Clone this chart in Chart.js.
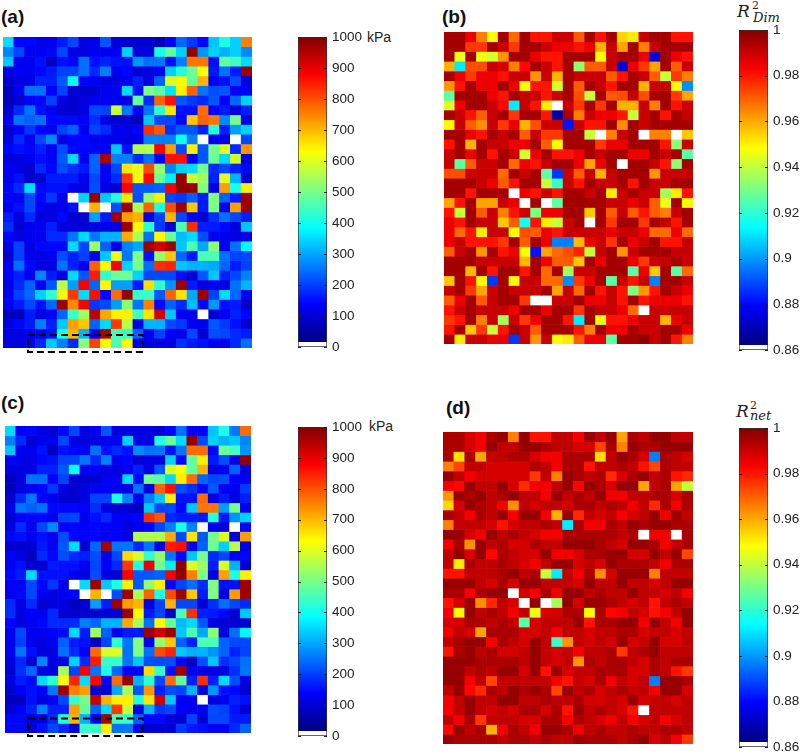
<!DOCTYPE html>
<html>
<head>
<meta charset="utf-8">
<title>Stiffness and fit maps</title>
<script src="https://cdn.jsdelivr.net/npm/chart.js@4"></script>
<style>
  body { margin: 0; background: #fff; width: 800px; height: 754px; overflow: hidden; position: relative; font-family: "Liberation Sans", Arial, sans-serif; color: #222; }
  canvas { position: absolute; }
  canvas.map { filter: blur(0.4px); }
  .tag { position: absolute; font-weight: bold; font-size: 19px; color: #111; line-height: 22px; }
  .unit { position: absolute; font-size: 14px; line-height: 16px; }
  .math { position: absolute; font-family: "DejaVu Serif", serif; font-style: italic; line-height: 1; color: #222; }
</style>
</head>
<body>
<div class="tag" style="left:1px;top:6px">(a)</div>
<div class="tag" style="left:442px;top:6px">(b)</div>
<div class="tag" style="left:1px;top:392px">(c)</div>
<div class="tag" style="left:446px;top:397px">(d)</div>
<div class="unit" style="left:367px;top:29px">kPa</div>
<div class="unit" style="left:369px;top:418px">kPa</div>
<span class="math" style="left:737px;top:3px;font-size:17px">R</span>
<span class="math" style="left:752px;top:0;font-size:11px;font-style:normal">2</span>
<span class="math" style="left:753px;top:11px;font-size:13px">Dim</span>
<span class="math" style="left:736px;top:403px;font-size:17px">R</span>
<span class="math" style="left:750px;top:400px;font-size:11px;font-style:normal">2</span>
<span class="math" style="left:750px;top:409px;font-size:13px">net</span>

<canvas class="map" id="mapA" width="249" height="317" style="left:3px;top:37px"></canvas>
<canvas class="map" id="mapB" width="249" height="312" style="left:444px;top:32px"></canvas>
<canvas class="map" id="mapC" width="246" height="313" style="left:5px;top:426px"></canvas>
<canvas class="map" id="mapD" width="250" height="312" style="left:443px;top:432px"></canvas>
<canvas id="barA" width="103" height="330" style="left:296px;top:27px"></canvas>
<canvas id="barB" width="63" height="340" style="left:737px;top:20px"></canvas>
<canvas id="barC" width="103" height="329" style="left:296px;top:417px"></canvas>
<canvas id="barD" width="63" height="339" style="left:737px;top:418px"></canvas>

<script>
// stiffness in kPa, 0 means no value (white cell)
const panelA = [
  [340,130,130,110,110,150,195,95,110,210,95,80,80,80,60,130,225,180,130,320,400,330,750],
  [255,195,110,120,130,195,95,95,110,110,110,330,95,95,400,470,330,980,270,330,300,330,260],
  [320,110,110,140,60,140,130,235,140,155,140,140,270,235,240,140,250,760,760,140,470,440,340],
  [95,120,110,130,150,190,190,235,165,250,110,130,80,95,110,330,410,480,620,150,235,150,970],
  [80,95,95,155,155,210,380,120,120,95,95,110,155,95,220,590,620,470,700,110,140,200,95],
  [60,110,235,235,120,190,80,80,80,110,110,340,140,500,460,350,640,780,240,200,210,120,120],
  [60,80,120,130,190,95,80,95,110,110,110,95,470,165,780,860,210,180,165,210,120,225,330],
  [80,165,240,140,110,80,80,95,195,190,570,240,110,240,420,650,140,140,770,120,150,95,155],
  [110,240,220,235,130,130,130,120,170,95,80,80,60,320,195,195,130,680,780,760,260,490,110],
  [80,120,180,130,110,190,220,110,190,165,110,110,130,830,790,170,210,210,155,410,155,280,330],
  [95,165,110,195,260,95,130,130,110,110,110,95,110,250,250,250,390,250,0,110,110,0,195],
  [130,140,130,155,110,200,130,130,130,120,320,140,550,550,880,720,195,640,210,490,590,165,730],
  [95,95,110,140,120,210,340,110,225,960,250,250,165,235,110,860,860,110,210,480,340,580,95],
  [120,95,80,165,130,200,170,150,220,110,195,650,600,800,520,255,330,340,490,165,195,155,130],
  [110,140,80,80,150,150,150,110,195,120,165,820,620,870,480,360,980,570,530,155,600,300,80],
  [130,165,340,130,140,140,110,95,200,95,80,880,210,210,220,880,980,980,500,95,720,400,640],
  [130,110,195,130,180,110,0,330,970,320,410,650,200,520,640,195,180,220,150,500,220,150,970],
  [110,140,195,110,95,110,140,0,700,0,200,970,540,780,400,800,970,680,150,500,110,720,970],
  [150,95,165,95,95,130,80,80,280,150,970,720,700,95,190,700,195,110,80,170,235,195,155],
  [170,80,110,110,155,95,95,80,95,110,95,970,630,420,180,80,450,830,155,150,130,95,320],
  [130,95,110,110,165,165,240,340,240,300,300,710,540,235,630,480,310,340,200,110,110,95,95],
  [95,190,95,130,130,130,340,195,530,220,110,255,290,970,920,970,320,450,290,510,110,235,370],
  [80,190,110,95,110,200,155,190,95,320,610,240,500,140,520,680,225,150,450,450,235,190,195],
  [110,235,130,95,95,235,155,110,780,630,880,330,490,235,830,840,320,300,300,290,225,150,190],
  [120,155,110,255,150,95,340,210,850,420,480,480,330,195,195,195,140,80,210,320,155,195,250],
  [95,165,220,120,210,560,280,880,225,630,280,280,150,660,420,270,970,150,95,120,95,235,300],
  [110,190,225,330,420,610,820,340,860,130,770,980,430,430,210,780,650,290,970,190,340,225,110],
  [110,150,195,140,225,970,740,880,180,195,280,510,240,750,130,220,165,310,130,270,140,150,80],
  [60,60,150,95,120,225,430,530,940,710,640,640,440,650,920,320,110,110,0,80,110,155,130],
  [95,130,150,250,155,320,720,680,220,340,820,560,110,300,300,195,180,110,110,210,180,140,80],
  [95,95,120,110,140,400,700,300,110,960,440,430,220,120,190,120,110,195,80,200,195,165,150],
  [95,95,95,165,320,250,165,510,810,630,450,620,95,95,95,95,170,150,140,120,110,165,235]
];

// R2 of the dimensional fit
const panelB = [
  [.995,.995,.985,.965,.948,.995,.968,.995,.98,.98,.99,.99,.97,.995,.98,.995,.953,.95,.99,.995,.995,.98,.98],
  [.995,.995,.975,.975,.995,.99,.975,.995,.995,.99,.985,.985,.98,.985,.958,.99,.96,.995,.965,.99,.995,.995,.995],
  [.995,.945,.995,.945,.942,.962,.995,.995,.985,.98,.98,.995,.995,.995,.948,.99,.995,.995,.985,.872,.995,.985,.98],
  [.958,.91,.972,.972,.99,.988,.965,.982,.995,.99,.98,.995,.932,.97,.97,.99,.872,.985,.975,.96,.995,.97,.99],
  [.995,.985,.975,.985,.985,.98,.99,.99,.962,.99,.958,.995,.99,.99,.99,.97,.98,.995,.99,.97,.94,.975,.965],
  [.962,.98,.995,.985,.985,.995,.985,.948,.98,.98,.942,.995,.97,.995,.99,.98,.995,.995,.958,.99,.99,.948,.897],
  [.925,.995,.995,.995,.985,.98,.995,.99,.99,.98,.99,.995,.972,.94,.995,.97,.972,.99,.972,.995,.995,.975,.96],
  [.943,.985,.995,.995,.99,.982,.91,.99,.98,.95,0,.99,.975,.995,.975,.995,.958,.958,.99,.965,.995,.98,.99],
  [.995,.99,.98,.97,.99,.995,.975,.995,.995,.98,.865,.995,.965,.99,.985,.985,.98,.94,.99,.995,.98,.995,.99],
  [.948,.99,.97,.963,.99,.975,.985,.958,.972,.99,.99,.88,.99,.98,.98,.995,.963,.995,.99,.995,.995,.995,.995],
  [.995,.995,.985,.98,.995,.99,.995,.97,.99,.975,.975,.995,.995,.94,0,.965,.99,.995,0,.965,.965,0,.955],
  [.98,.995,.958,.995,.99,.99,.985,.985,.995,.97,.948,.995,.995,.995,.975,.985,.985,.995,.995,.995,.98,.932,.99],
  [.99,.995,.985,.995,.98,.995,.99,.942,.985,.995,.98,.98,.985,.995,.99,.995,.995,.985,.985,.995,.99,.995,.925],
  [.99,.925,.97,.99,.99,.995,.968,.985,.98,.99,.995,.995,.985,.96,.985,.995,0,.995,.995,.99,.98,.932,.995],
  [.972,.972,.99,.99,.99,.968,.995,.99,.995,.925,.885,.99,.97,.99,.958,.99,.995,.995,.995,.962,.99,.99,.99],
  [.995,.995,.995,.99,.985,.97,.98,.995,.995,.94,.92,.99,.98,.995,.99,.99,.995,.98,.995,.99,.99,.995,.995],
  [.995,.995,.98,.995,.995,.995,0,.985,.98,.99,.98,.995,.995,.99,.995,.95,.99,.995,.99,.99,.935,.95,.98],
  [.96,.98,.995,.96,.96,.99,.985,0,.995,0,.925,.995,.995,.995,.995,.99,.99,.985,.99,.97,.945,.995,.948],
  [.98,.94,.995,.97,.99,.965,.98,.99,.93,.985,.985,.995,.995,.955,.995,.97,.99,.97,.98,.97,.965,.99,.995],
  [.985,.98,.995,.99,.99,.955,.97,.915,.98,.95,.94,.99,.995,0,.995,.975,.995,.995,.975,.995,.99,.98,.995],
  [.985,.968,.98,.95,.99,.99,.948,.972,.97,.985,.98,.99,.99,.99,.99,.985,.99,.99,.985,.968,.968,.985,.968],
  [.985,.99,.98,.98,.98,.975,.995,.97,.995,.985,.895,.895,.957,.985,.99,.975,.995,.985,.99,.995,.98,.98,.99],
  [.97,.99,.995,.962,.995,.98,.985,.948,.88,.96,.968,.972,.978,.94,.99,.995,.962,.99,.995,.995,.995,.99,.99],
  [.995,.995,.995,.99,.99,.99,.99,.957,.995,.985,.97,.97,.955,.995,.985,.995,.995,.985,.975,.99,.99,.995,.99],
  [.995,.995,.957,.995,.98,.995,.995,.98,.995,.968,.995,.935,.99,.99,.995,.995,.995,.925,.985,.955,.995,.925,.968],
  [.955,.995,.98,.948,.885,.995,.948,.99,.99,.968,.968,.897,.975,.985,.995,.925,.99,.98,.99,.895,.995,.995,.99],
  [.99,.995,.975,.96,.99,.995,.99,.99,.99,.995,.96,.99,.968,.995,.98,.99,.98,.93,.962,.98,.995,.99,.985],
  [.97,.985,.995,.97,.99,.995,.995,.975,0,0,.99,.99,.995,.985,.985,.99,.98,.995,.98,.985,.985,.985,.98],
  [.98,.99,.995,.99,.99,.99,.985,.995,.995,.985,.995,.995,.975,.995,.99,.99,.985,.968,0,.99,.99,.99,.99],
  [.975,.98,.995,.965,.99,.935,.99,.975,.985,.995,.995,.98,.91,.995,.945,.98,.98,.985,.99,.99,.958,.985,.99],
  [.98,.995,.955,.975,.94,.98,.995,.99,.97,.995,.995,.995,.98,.965,.995,.985,.985,.995,.99,.99,.995,.995,.985],
  [.995,.95,.99,.99,.985,.985,.885,.99,.962,.99,.948,.95,.97,.985,.985,.925,.995,.995,.998,.99,.995,.98,.965]
];

const panelC = [
  [340,120,130,95,80,130,195,95,110,210,95,95,95,95,80,130,235,120,120,320,400,240,770],
  [250,165,80,110,110,195,95,95,95,110,110,330,95,95,410,480,340,980,195,330,300,320,255],
  [320,110,110,140,60,140,130,110,235,140,165,140,260,235,240,140,240,770,770,130,480,440,270],
  [110,110,95,130,140,190,190,240,165,250,110,130,80,95,95,330,130,470,640,150,200,95,980],
  [95,95,95,155,155,210,380,110,120,95,95,110,155,95,210,590,620,470,700,95,110,220,95],
  [60,95,235,235,120,190,80,80,80,110,110,340,130,490,460,340,640,770,225,195,200,120,110],
  [60,95,110,130,180,95,80,95,110,110,110,95,235,95,780,860,200,170,130,210,110,110,180],
  [80,165,240,130,110,80,80,95,190,190,400,250,110,250,320,640,140,140,770,95,150,95,155],
  [110,240,220,235,130,130,130,120,170,95,80,80,60,320,195,195,130,320,760,760,280,490,110],
  [80,120,130,130,110,190,195,110,140,165,120,110,130,830,790,165,150,150,150,420,150,270,330],
  [95,165,110,195,260,120,130,120,130,120,120,95,110,130,195,250,400,250,0,110,95,0,130],
  [130,140,110,140,110,200,130,120,130,110,120,95,550,550,550,710,195,650,210,490,590,95,720],
  [80,80,80,150,120,210,340,80,225,960,240,240,165,240,95,850,860,110,220,480,330,560,95],
  [120,95,60,165,130,200,165,155,200,95,195,660,590,420,520,240,130,320,490,165,195,120,130],
  [110,140,80,80,150,140,140,110,195,120,165,820,400,890,480,360,980,590,530,155,590,300,80],
  [130,150,340,140,140,140,110,95,200,95,80,880,210,210,220,880,980,750,500,95,720,400,640],
  [120,110,195,130,180,110,0,340,970,320,400,640,210,520,640,130,190,235,165,500,140,140,970],
  [110,130,195,110,95,110,130,0,700,0,200,970,540,780,400,800,970,680,150,500,95,720,970],
  [165,95,165,80,95,95,60,80,280,155,970,720,700,95,190,700,195,195,80,170,235,195,165],
  [170,95,120,110,165,80,80,80,80,80,80,970,630,150,195,80,450,830,155,150,130,80,320],
  [130,95,110,130,165,165,165,250,225,300,300,710,540,235,630,480,310,340,210,95,80,80,80],
  [110,195,110,110,120,130,340,150,530,220,110,150,150,970,920,970,320,450,290,510,95,235,370],
  [110,190,110,95,110,220,150,140,60,190,420,240,500,110,520,680,220,155,450,450,220,195,195],
  [110,240,140,95,95,235,165,120,770,590,590,235,500,235,800,840,320,300,300,270,225,155,190],
  [95,165,80,255,95,95,330,165,850,430,430,240,320,200,200,200,130,60,200,320,170,195,235],
  [80,170,225,95,95,540,190,880,240,400,225,120,120,660,430,140,970,110,95,95,95,170,240],
  [95,150,130,340,420,620,840,340,870,130,770,980,300,420,195,770,470,155,830,155,340,200,95],
  [80,120,140,120,240,970,750,720,80,80,290,540,210,730,155,200,190,300,95,270,140,130,80],
  [60,60,140,95,120,195,430,490,930,700,640,640,410,650,920,320,110,110,0,95,110,155,140],
  [80,120,155,250,155,155,720,470,220,340,820,570,95,300,180,195,120,110,110,200,190,140,80],
  [130,130,95,95,165,400,700,300,110,960,440,430,220,130,130,95,80,190,80,195,195,150,150],
  [130,130,80,140,195,165,80,430,430,640,235,240,95,80,80,80,180,150,140,120,120,165,220]
];

// R2 of the network fit
const panelD = [
  [.994,.994,.988,.984,.994,.997,.965,.997,.98,.98,.991,.991,.984,.997,.991,.997,.96,.994,.991,.997,.997,.991,.991],
  [.994,.994,.988,.984,.997,.991,.991,.997,.997,.994,.991,.991,.988,.988,.973,.994,.965,.997,.994,.994,.997,.997,.997],
  [.994,.952,.994,.96,.991,.991,.994,.994,.988,.984,.984,.994,.994,.994,.952,.991,.997,.994,.988,.895,.994,.991,.988],
  [.965,.973,.991,.991,.988,.988,.988,.988,.994,.991,.984,.994,.994,.98,.991,.991,.994,.991,.98,.973,.994,.991,.991],
  [.997,.991,.984,.988,.988,.988,.988,.988,.975,.991,.965,.997,.994,.991,.994,.977,.988,.994,.997,.991,.994,.98,.977],
  [.984,.982,.997,.991,.991,.997,.988,.977,.984,.984,.991,.997,.982,.997,.994,.988,.997,.997,.96,.991,.994,.96,.94],
  [.962,.997,.994,.997,.991,.994,.997,.991,.991,.984,.997,.991,.994,.991,.997,.984,.984,.991,.991,.994,.994,.988,.994],
  [.953,.988,.997,.994,.991,.984,.963,.991,.988,.991,.991,.988,.994,.994,.991,.994,.991,.984,.991,.977,.994,.984,.994],
  [.994,.991,.984,.994,.991,.997,.984,.997,.997,.984,.958,.997,.977,.991,.988,.991,.984,.988,.991,.997,.984,.997,.991],
  [.965,.991,.991,.991,.988,.98,.988,.991,.991,.994,.991,.91,.994,.984,.984,.994,.991,.997,.994,.997,.997,.994,.994],
  [.997,.997,.988,.984,.997,.991,.994,.991,.988,.984,.984,.994,.994,.994,.994,.994,.991,.994,0,.984,.984,0,.994],
  [.984,.994,.963,.997,.991,.994,.988,.988,.994,.991,.991,.997,.997,.997,.994,.991,.988,.997,.997,.994,.984,.991,.994],
  [.991,.997,.988,.997,.982,.994,.991,.988,.988,.997,.984,.984,.988,.994,.994,.997,.997,.988,.988,.997,.991,.997,.973],
  [.991,.95,.994,.991,.991,.994,.991,.988,.984,.991,.997,.997,.988,.991,.988,.997,.994,.994,.994,.991,.984,.994,.994],
  [.98,.98,.991,.991,.991,.994,.997,.991,.994,.94,.91,.991,.984,.994,.963,.988,.997,.997,.997,.965,.991,.991,.991],
  [.997,.997,.997,.991,.988,.994,.988,.997,.997,.991,.991,.991,.988,.997,.991,.991,.997,.991,.991,.988,.991,.997,.997],
  [.994,.994,.984,.994,.997,.997,0,.988,.984,.994,.984,.997,.997,.991,.994,.991,.991,.997,.991,.991,.988,.991,.984],
  [.98,.988,.997,.963,.977,.991,.988,0,.997,0,.935,.997,.988,.997,.997,.994,.991,.988,.991,.98,.991,.994,.991],
  [.984,.948,.997,.991,.994,.991,.984,.991,.945,.988,.988,.994,.994,.948,.994,.982,.984,.991,.988,.98,.984,.991,.997],
  [.988,.988,.994,.994,.991,.994,.991,.925,.988,.991,.991,.991,.997,.98,.994,.994,.997,.997,.984,.997,.991,.984,.997],
  [.984,.991,.988,.96,.994,.994,.994,.988,.988,.991,.984,.991,.991,.988,.991,.991,.994,.994,.988,.991,.991,.988,.991],
  [.991,.994,.997,.997,.984,.994,.991,.988,.997,.991,.92,.962,.991,.988,.991,.988,.997,.988,.991,.997,.988,.988,.991],
  [.98,.994,.997,.991,.994,.988,.988,.991,.997,.991,.988,.991,.984,.991,.991,.994,.975,.991,.994,.997,.991,.991,.991],
  [.997,.997,.997,.994,.994,.994,.994,.991,.997,.991,.988,.991,.962,.994,.991,.994,.994,.991,.988,.994,.991,.994,.994],
  [.997,.997,.991,.994,.991,.997,.997,.988,.997,.98,.997,.988,.991,.991,.994,.994,.994,.988,.988,.994,.991,.98,.975],
  [.997,.997,.984,.991,.973,.991,.991,.991,.991,.991,.984,.98,.991,.988,.994,.984,.991,.988,.991,.895,.997,.997,.994],
  [.991,.997,.982,.977,.994,.991,.997,.994,.997,.994,.973,.997,.991,.994,.988,.991,.994,.991,.991,.984,.997,.997,.988],
  [.984,.991,.997,.991,.991,.997,.997,.991,.991,.994,.991,.991,.994,.988,.988,.991,.988,.997,.988,.991,.991,.988,.991],
  [.984,.991,.997,.991,.988,.991,.988,.994,.994,.988,.994,.98,.997,.991,.994,.991,.988,.98,0,.991,.991,.991,.991],
  [.991,.984,.994,.975,.991,.991,.991,.988,.988,.994,.994,.984,.994,.991,.988,.984,.991,.984,.988,.991,.984,.988,.991],
  [.982,.997,.991,.994,.958,.984,.994,.991,.984,.997,.997,.994,.984,.991,.994,.991,.991,.994,.991,.991,.994,.994,.991],
  [.997,.994,.994,.994,.994,.991,.994,.994,.991,.994,.991,.991,.997,.994,.994,.994,.991,.994,.997,.988,.991,.984,.975]
];

const kpaTicks = [0,100,200,300,400,500,600,700,800,900,1000];
const r2Ticks = [0.86,0.88,0.9,0.92,0.94,0.96,0.98,1];

// jet colormap
const jetStops = [[0,[0,0,128]],[.125,[0,0,255]],[.375,[0,255,255]],[.625,[255,255,0]],[.875,[255,0,0]],[1,[128,0,0]]];
function jet(t) {
  t = Math.min(1, Math.max(0, t));
  for (let i = 1; i < jetStops.length; i++) {
    if (t <= jetStops[i][0]) {
      const a = jetStops[i-1], b = jetStops[i];
      const f = (t - a[0]) / (b[0] - a[0]);
      const c = a[1].map((v, k) => Math.round(v + (b[1][k] - v) * f));
      return `rgb(${c[0]},${c[1]},${c[2]})`;
    }
  }
}

// dashed rectangle on the bottom row of the stiffness maps
const dashedBox = {
  id: 'dashedBox',
  afterDraw(chart, args, opts) {
    if (!opts.box) return;
    const x = chart.scales.x, y = chart.scales.y, c = chart.ctx;
    const [x0, x1, y0, y1] = opts.box;
    c.save();
    c.strokeStyle = '#000';
    c.lineWidth = 2;
    c.setLineDash([7, 4]);
    c.strokeRect(x.getPixelForValue(x0), y.getPixelForValue(y0),
      x.getPixelForValue(x1) - x.getPixelForValue(x0), y.getPixelForValue(y1) - y.getPixelForValue(y0));
    c.restore();
  }
};

function drawMap(id, rows, min, max, box) {
  const labels = rows[0].map((v, i) => i);
  // one stacked dataset per row, colour of each cell comes from its value
  const datasets = rows.map(row => ({
    data: row.map(() => 1),
    backgroundColor: row.map(v => v <= 0 ? '#fff' : jet((v - min) / (max - min))),
    barPercentage: 1,
    categoryPercentage: 1,
    borderWidth: 0
  }));
  new Chart(document.getElementById(id), {
    type: 'bar',
    data: { labels, datasets },
    plugins: [dashedBox],
    options: {
      responsive: false,
      animation: false,
      layout: { padding: { bottom: box ? 6 : 0 } },
      scales: {
        x: { stacked: true, display: false },
        y: { stacked: true, display: false, reverse: true, min: 0, max: rows.length }
      },
      plugins: { legend: { display: false }, tooltip: { enabled: false }, dashedBox: { box } }
    }
  });
}

// small inward tick marks on both sides of the colour bar
const barTicks = {
  id: 'barTicks',
  afterDraw(chart) {
    const y = chart.scales.y, a = chart.chartArea, c = chart.ctx;
    c.save();
    c.strokeStyle = '#222';
    y.ticks.forEach(t => {
      const p = Math.round(y.getPixelForValue(t.value)) + .5;
      c.beginPath();
      c.moveTo(a.left, p); c.lineTo(a.left + 3, p);
      c.moveTo(a.right - 3, p); c.lineTo(a.right, p);
      c.stroke();
    });
    c.restore();
  }
};

function drawBar(id, ticks, axisWidth) {
  const min = ticks[0], max = ticks[ticks.length - 1];
  new Chart(document.getElementById(id), {
    type: 'bar',
    data: {
      labels: ['scale'],
      datasets: [{
        data: [[min, max]],
        barPercentage: 1,
        categoryPercentage: 1,
        borderColor: '#333',
        borderWidth: 1,
        borderSkipped: false,
        backgroundColor: ctx => {
          const area = ctx.chart.chartArea;
          if (!area) return '#fff';
          const g = ctx.chart.ctx.createLinearGradient(0, area.bottom, 0, area.top);
          g.addColorStop(0, '#fff');
          g.addColorStop(.016, '#fff');
          jetStops.forEach(s => g.addColorStop(.016 + s[0] * .984, `rgb(${s[1].join(',')})`));
          return g;
        }
      }]
    },
    plugins: [barTicks],
    options: {
      responsive: false,
      animation: false,
      layout: { padding: { top: 10, bottom: 10, left: 2 } },
      scales: {
        x: { display: false },
        y: {
          position: 'right',
          min, max,
          grid: { display: false, drawTicks: false },
          border: { display: false },
          afterBuildTicks: s => { s.ticks = ticks.map(value => ({ value })); },
          afterFit: s => { s.width = axisWidth; s.paddingTop = 0; s.paddingBottom = 0; },
          ticks: {
            padding: 5,
            color: '#222',
            autoSkip: false,
            font: { family: '"Liberation Sans", Arial, sans-serif', size: 13.5 },
            callback: v => String(+v.toFixed(2))
          }
        }
      },
      plugins: { legend: { display: false }, tooltip: { enabled: false } }
    }
  });
}

drawMap('mapA', panelA, 0, 1000, [1.81, 12.43, 30.66, 32.4]);
drawMap('mapB', panelB, 0.86, 1);
drawMap('mapC', panelC, 0, 1000, [1.65, 12.4, 30.5, 32.3]);
drawMap('mapD', panelD, 0.86, 1);
drawBar('barA', kpaTicks, 72);
drawBar('barB', r2Ticks, 32);
drawBar('barC', kpaTicks, 72);
drawBar('barD', r2Ticks, 32);
</script>
</body>
</html>
